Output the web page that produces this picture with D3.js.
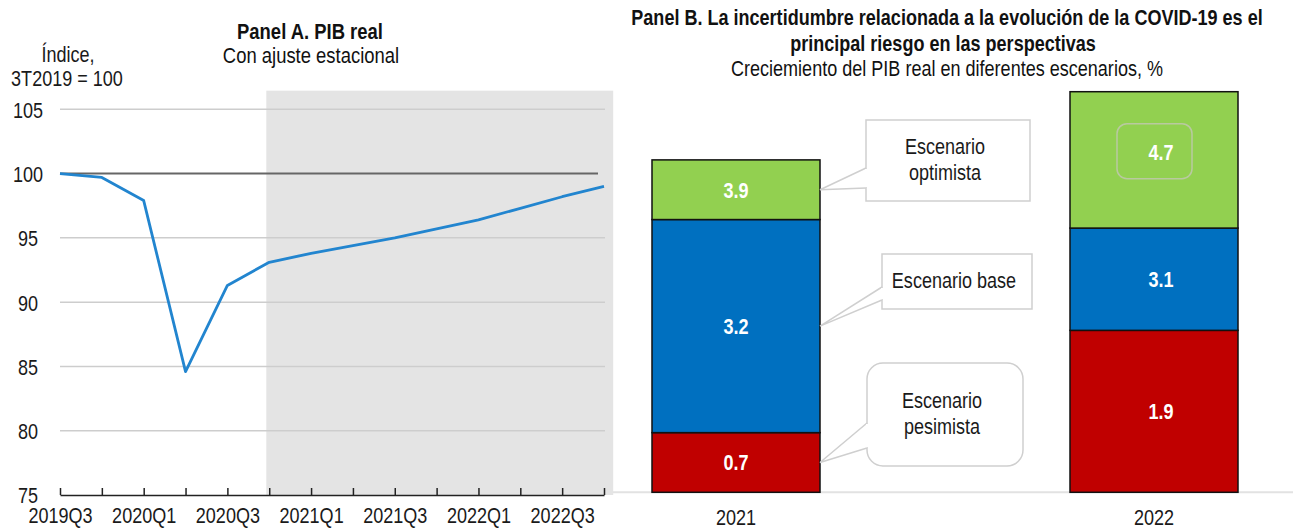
<!DOCTYPE html>
<html>
<head>
<meta charset="utf-8">
<script src="https://cdn.jsdelivr.net/npm/d3@7"></script>
<style>
  body { margin: 0; background: #fff; }
  svg { display: block; font-family: "Liberation Sans", Arial, sans-serif; }
</style>
</head>
<body>
<div id="chart"></div>
<script>
// Panel A: PIB real, indice 3T2019 = 100
const quarters = ["2019Q3", "2019Q4", "2020Q1", "2020Q2", "2020Q3", "2020Q4", "2021Q1",
                  "2021Q2", "2021Q3", "2021Q4", "2022Q1", "2022Q2", "2022Q3", "2022Q4"];
const pibReal = [100, 99.7, 97.9, 84.6, 91.3, 93.1, 93.8, 94.4, 95.0, 95.7, 96.4, 97.3, 98.2, 99.0];
const projectionStart = "2020Q4";
const yTicksA = [75, 80, 85, 90, 95, 100, 105];

// Panel B: crecimiento del PIB real por escenario, %
const years = ["2021", "2022"];
const pesimista = [0.7, 1.9];
const base = [3.2, 3.1];
const optimista = [3.9, 4.7];
const scenarioNames = [["Escenario", "pesimista"], ["Escenario base"], ["Escenario", "optimista"]];
const scenarioColors = ["#C00000", "#0070C0", "#92D050"];

const W = 1293, H = 529;
const NARROW = 0.82; // fake Arial Narrow by squeezing Liberation Sans
const svg = d3.select("#chart").append("svg").attr("width", W).attr("height", H);

// squeeze a text horizontally while keeping its anchor point
function narrow(sel) {
    sel.each(function () {
        const t = d3.select(this);
        const x0 = +t.attr("x") || 0;
        t.attr("x", x0 / NARROW).attr("transform", `scale(${NARROW},1)`);
    });
    return sel;
}

function label(x, y, str, size, bold, fill) {
    return svg.append("text")
        .attr("x", x).attr("y", y)
        .attr("text-anchor", "middle")
        .style("font-size", size + "px")
        .style("font-weight", bold ? "bold" : "normal")
        .attr("fill", fill || "#1a1a1a")
        .text(str)
        .call(narrow);
}

// ---------- Panel A ----------
const x = d3.scaleLinear().domain([0, quarters.length - 1]).range([60, 604]);
const y = d3.scaleLinear().domain([75, 105]).range([495, 109.3]);

// projection shading
const pStart = quarters.indexOf(projectionStart);
svg.append("rect")
    .attr("x", x(pStart - 0.07))
    .attr("y", y(106.45))
    .attr("width", x(quarters.length - 1 + 0.22) - x(pStart - 0.07))
    .attr("height", y(75) - y(106.45))
    .attr("fill", "#e4e4e4");

// gridlines
svg.selectAll("line.grid")
    .data(yTicksA.filter(d => d !== 75 && d !== 100))
    .enter().append("line")
    .attr("class", "grid")
    .attr("x1", x(0)).attr("x2", x(quarters.length - 1) + 1)
    .attr("y1", d => y(d)).attr("y2", d => y(d))
    .attr("stroke", "#cdcdcd").attr("stroke-width", 1.5);

// reference line at 100
svg.append("line")
    .attr("x1", x(0)).attr("x2", x(quarters.length - 1) - 6)
    .attr("y1", y(100)).attr("y2", y(100))
    .attr("stroke", "#666").attr("stroke-width", 2);

// y axis labels, centered
const yAxis = svg.append("g")
    .attr("transform", `translate(${x(0)},0)`)
    .call(d3.axisLeft(y).tickValues(yTicksA).tickSize(0).tickPadding(32));
yAxis.select(".domain").remove();
yAxis.selectAll("text")
    .attr("text-anchor", "middle")
    .attr("dy", "0.36em")
    .style("font-size", "22px").style("fill", "#1a1a1a")
    .style("font-family", null)
    .call(narrow);

// x axis
const xAxis = svg.append("g")
    .attr("transform", `translate(0,${y(75)})`)
    .call(d3.axisBottom(x)
        .tickValues(d3.range(quarters.length))
        .tickSizeInner(-7).tickSizeOuter(0).tickPadding(12)
        .tickFormat(i => i % 2 === 0 ? quarters[i] : ""));
xAxis.select(".domain").attr("stroke", "#222").attr("stroke-width", 1.5);
xAxis.selectAll(".tick line").attr("stroke", "#222").attr("stroke-width", 1.5);
xAxis.selectAll("text")
    .style("font-size", "22px").style("fill", "#1a1a1a")
    .style("font-family", null)
    .call(narrow);

// data line
const line = d3.line().x((d, i) => x(i)).y(d => y(d));
svg.append("path")
    .datum(pibReal)
    .attr("d", line)
    .attr("fill", "none")
    .attr("stroke", "#2285CF")
    .attr("stroke-width", 2.8)
    .attr("stroke-linejoin", "round");

// titles panel A
label(310, 39, "Panel A. PIB real", 22.5, true, "#111");
label(311, 63, "Con ajuste estacional", 22.5, false, "#111");
label(68, 62, "Índice,", 22);
label(67, 86, "3T2019 = 100", 22);

// ---------- Panel B ----------
const xb = d3.scalePoint().domain(years).range([736, 1154]);
const yb = d3.scaleLinear().domain([0, 4.7]).range([492.3, 91.7]);
const barW = 168;

// baseline
svg.append("line")
    .attr("x1", 613).attr("x2", W)
    .attr("y1", yb(0)).attr("y2", yb(0))
    .attr("stroke", "#e2e2e2").attr("stroke-width", 2);

// segments: each scenario stacks from the previous scenario's value to its own
const series = [pesimista, base, optimista];
const segments = [];
years.forEach((yr, j) => {
    series.forEach((s, k) => {
        const lo = k === 0 ? 0 : series[k - 1][j];
        segments.push({ year: yr, k: k, lo: lo, hi: s[j], value: s[j] });
    });
});

svg.selectAll("rect.seg")
    .data(segments)
    .enter().append("rect")
    .attr("class", "seg")
    .attr("x", d => xb(d.year) - barW / 2)
    .attr("y", d => yb(d.hi))
    .attr("width", barW)
    .attr("height", d => yb(d.lo) - yb(d.hi))
    .attr("fill", d => scenarioColors[d.k])
    .attr("stroke", "#111")
    .attr("stroke-width", 1.5);

// highlight box around the 2022 optimistic label
const boxed = segments.find(d => d.year === "2022" && d.k === 2);
svg.append("rect")
    .attr("x", xb(boxed.year) - 37)
    .attr("y", yb(boxed.hi) + 32)
    .attr("width", 75).attr("height", 55).attr("rx", 10)
    .attr("fill", "none").attr("stroke", "#b9c9a0").attr("stroke-width", 1.5);

svg.selectAll("text.seg")
    .data(segments)
    .enter().append("text")
    .attr("class", "seg")
    .attr("x", d => xb(d.year) + (d.year === "2022" ? 7 : 0))
    .attr("y", d => d === boxed ? yb(boxed.hi) + 60 : (yb(d.lo) + yb(d.hi)) / 2)
    .attr("dy", "0.36em")
    .attr("text-anchor", "middle")
    .style("font-size", "22px").style("font-weight", "bold")
    .attr("fill", "#fff")
    .text(d => d3.format(".1f")(d.value))
    .call(narrow);

// x labels panel B
svg.selectAll("text.year")
    .data(years)
    .enter().append("text")
    .attr("class", "year")
    .attr("x", d => xb(d)).attr("y", 525)
    .attr("text-anchor", "middle")
    .style("font-size", "22px").attr("fill", "#1a1a1a")
    .text(d => d)
    .call(narrow);

// callouts for 2021 segments
const callouts = [
    { k: 2, box: [866, 120, 164, 81], r: 0, wedge: [168, 188] },
    { k: 1, box: [882, 254, 150, 55], r: 0, wedge: [287, 300] },
    { k: 0, box: [867, 363, 156, 103], r: 16, wedge: [423, 448] }
];
callouts.forEach(c => {
    const seg = segments.find(d => d.year === years[0] && d.k === c.k);
    const tipX = xb(seg.year) + barW / 2;
    const tipY = (yb(seg.lo) + yb(seg.hi)) / 2;
    const [bx, by, bw, bh] = c.box;
    svg.append("rect")
        .attr("x", bx).attr("y", by).attr("width", bw).attr("height", bh)
        .attr("rx", c.r)
        .attr("fill", "#fff").attr("stroke", "#cfcfcf").attr("stroke-width", 1.5);
    svg.append("path")
        .attr("d", `M${bx},${c.wedge[0]}L${tipX},${tipY}L${bx},${c.wedge[1]}`)
        .attr("fill", "#fff").attr("stroke", "#cfcfcf").attr("stroke-width", 1.5);
    svg.append("line")
        .attr("x1", bx).attr("x2", bx)
        .attr("y1", c.wedge[0] + 1).attr("y2", c.wedge[1] - 1)
        .attr("stroke", "#fff").attr("stroke-width", 2);
    const lines = scenarioNames[c.k];
    const cy = by + bh / 2;
    lines.forEach((t, i) => {
        label(bx + bw / 2 - 3, cy + (i - (lines.length - 1) / 2) * 26 + 7, t, 22);
    });
});

// titles panel B
label(947, 25, "Panel B. La incertidumbre relacionada a la evolución de la COVID-19 es el", 22, true, "#111");
label(943, 51, "principal riesgo en las perspectivas", 22, true, "#111");
label(947, 76, "Creciemiento del PIB real en diferentes escenarios, %", 22, false, "#111");
</script>
</body>
</html>
